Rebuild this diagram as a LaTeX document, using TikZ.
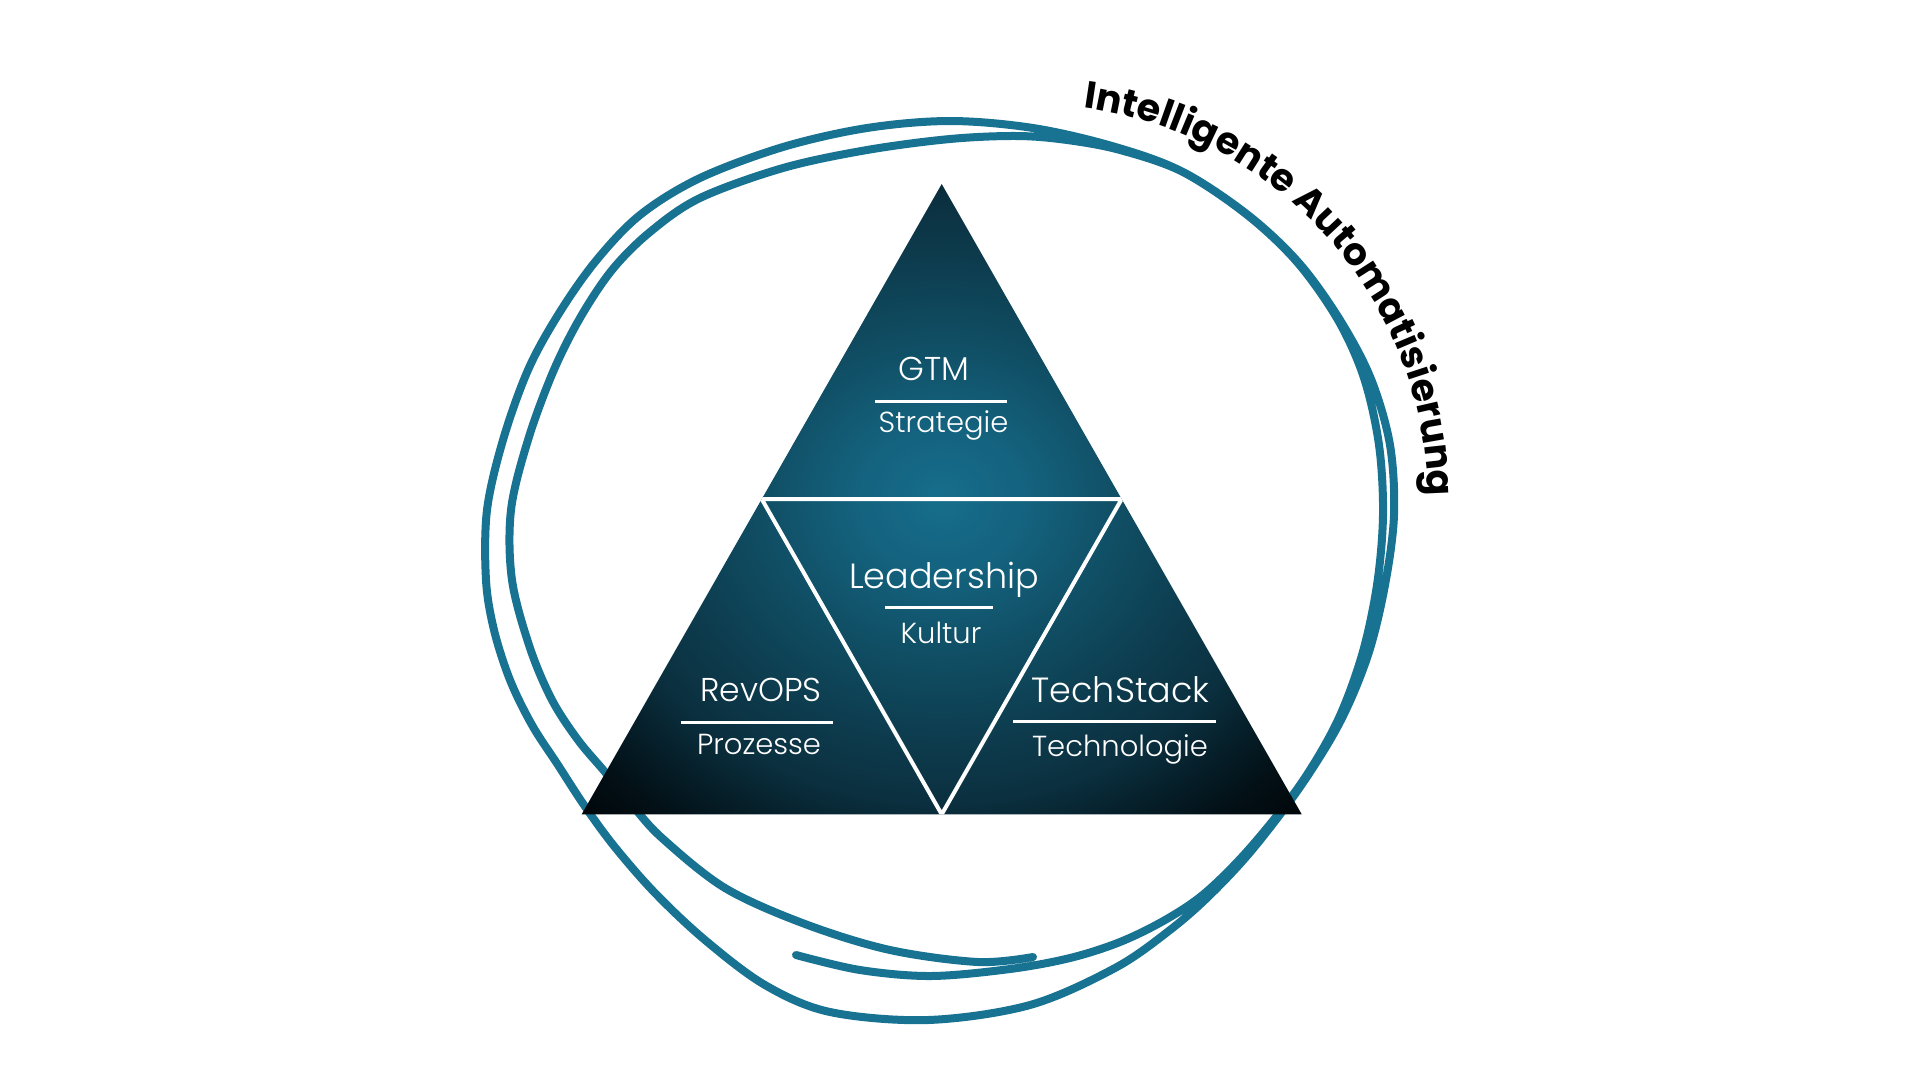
\documentclass[tikz,border=0pt]{standalone}
\usepackage{fontspec}
\newfontfamily\labelfont{Poppins}[UprightFont={* Light}]
\newfontfamily\ringfont{Poppins}
\usetikzlibrary{decorations.text}

\definecolor{ringblue}{RGB}{24,114,145}
\definecolor{glowA}{RGB}{22,110,140}
\definecolor{glowB}{RGB}{20,98,126}
\definecolor{glowC}{RGB}{16,78,100}
\definecolor{glowD}{RGB}{13,60,78}
\definecolor{glowE}{RGB}{11,48,63}
\definecolor{glowF}{RGB}{6,32,43}
\definecolor{glowG}{RGB}{3,16,22}
\definecolor{glowH}{RGB}{0,5,8}
\pgfdeclareradialshading{pyramidglow}{\pgfpoint{0bp}{0bp}}{%
  color(0bp)=(glowA); color(6bp)=(glowB); color(12.5bp)=(glowC); color(19bp)=(glowD);
  color(24bp)=(glowE); color(27.5bp)=(glowF); color(31.5bp)=(glowG); color(36bp)=(glowH);
  color(50bp)=(glowH)}

\newcommand\ringstyle{\ringfont\bfseries\fontsize{38pt}{38pt}\selectfont}

\tikzset{
  ring/.style={draw=ringblue, line width=8pt, line cap=round, line join=round},
  ttl/.style={text=white, inner sep=0pt, anchor=base, font=\labelfont\fontsize{33pt}{33pt}\selectfont},
  sub/.style={text=white, inner sep=0pt, anchor=base, font=\labelfont\fontsize{29pt}{29pt}\selectfont},
  sepline/.style={draw=white, line width=3pt},
}

\begin{document}
\begin{tikzpicture}[x=1pt, y=-1pt]
    \useasboundingbox (0,0) rectangle (1920,1080);

    % hand drawn ring (two turns)
    \draw[ring] plot[smooth, tension=0.55] coordinates {
        (796,955) (860,970) (931,976) (1010,969) (1070,958) (1120,942) (1165,920) (1205,893)
        (1250,848) (1300,785) (1337,722) (1362,655) (1377,585) (1383,515) (1379,445) (1364,378)
        (1338,320) (1297,262) (1246,214) (1181,171) (1112,146) (1033,128) (950,121) (867,128)
        (783,147) (700,178) (640,215) (595,262) (558,315) (528,370) (503,440) (487,510)
        (486,580) (494,630) (510,680) (532,725) (558,765) (584,805) (614,846) (655,893)
        (705,940) (765,985) (830,1012) (928,1020) (1030,1005) (1115,968) (1170,930) (1210,895)
        (1252,850) (1300,787) (1340,722) (1368,655) (1385,585) (1394,515) (1390,445) (1371,379)
        (1340,320) (1299,263) (1248,215) (1183,172) (1120,150) (1067,140) (1017,136) (950,139)
        (867,150) (783,168) (700,198) (650,232) (612,270) (580,318) (553,372) (528,440)
        (511,510) (512,580) (530,648) (552,700) (578,740) (605,772) (632,805) (662,838)
        (725,888) (805,924) (890,950) (978,962) (1033,957)};

    % pyramid
    \coordinate (top) at (941.7,184); \coordinate (bl) at (581.7,814.3); \coordinate (br) at (1301.7,814.3);
    \coordinate (ml) at (761.7,499); \coordinate (mr) at (1121.7,499); \coordinate (mb) at (941.7,814.3);
    \shade[shading=pyramidglow] (top)--(br)--(bl)--cycle;
    \begin{scope}
        \clip (top)--(br)--(bl)--cycle;
        \draw[white, line width=4pt] (ml)--(mr)--(mb)--cycle;
    \end{scope}

    % labels
    \node[ttl] (gtm) at (934,380) {GTM};
    \draw[sepline] (875,401) -- (1007,401);
    \node[sub] (strat) at (943.5,432) {Strategie};

    \node[ttl, font=\labelfont\fontsize{35pt}{35pt}\selectfont] (lead) at (944,588) {Leadership};
    \draw[sepline] (885,607) -- (993,607);
    \node[sub] (kult) at (941,643) {Kultur};

    \node[ttl] (rev) at (761,701) {RevOPS};
    \draw[sepline] (681,722) -- (833,722);
    \node[sub] (proz) at (759,754) {Prozesse};

    \node[ttl, font=\labelfont\fontsize{35pt}{35pt}\selectfont] (tech) at (1120.5,702) {TechStack};
    \draw[sepline] (1013,721) -- (1216,721);
    \node[sub] (techn) at (1120,756) {Technologie};

    % curved title
    \path[decorate, decoration={text along path, text align=center,
        text={|\ringstyle|Intelligente Automatisierung}}]
        (1030,502) ++(-101.5:398) arc[start angle=-101.5, end angle=18.5, radius=398];
\end{tikzpicture}
\end{document}
